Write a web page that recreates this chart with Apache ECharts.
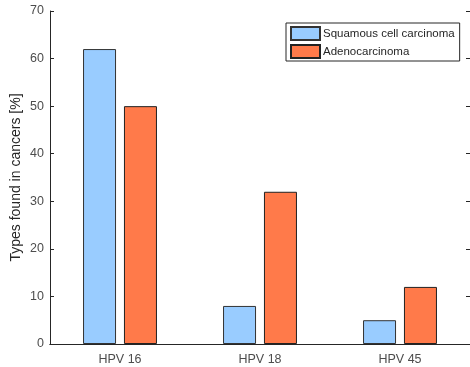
<!DOCTYPE html>
<html>
<head>
<meta charset="utf-8">
<script src="https://cdn.jsdelivr.net/npm/echarts@6/dist/echarts.min.js"></script>
<style>html,body{margin:0;padding:0;background:#fff;}#c{width:470px;height:367px;}</style>
</head>
<body>
<div id="c"></div>
<script>
const categories = ['HPV 16', 'HPV 18', 'HPV 45'];
const squamous = [62, 8, 5];
const adeno = [50, 32, 12];
const seriesNames = ['Squamous cell carcinoma', 'Adenocarcinoma'];

const font = 'Liberation Sans, Arial, Helvetica, sans-serif';
const axisColor = '#262626';
const chart = echarts.init(document.getElementById('c'));
chart.setOption({
  animation: false,
  textStyle: { fontFamily: font },
  grid: { left: 50, top: 11, width: 422, height: 333, containLabel: false },
  legend: {
    orient: 'vertical',
    left: 286, top: 23,
    itemWidth: 29, itemHeight: 13, itemGap: 3,
    padding: [3, 5, 2, 4],
    borderColor: '#262626', borderWidth: 1,
    backgroundColor: '#fff',
    icon: 'rect',
    textStyle: { fontSize: 11.5, color: '#262626', fontFamily: font, padding: [0, 0, 0, -2] },
    data: seriesNames
  },
  xAxis: [{
    type: 'category', data: categories, position: 'bottom',
    axisLine: { lineStyle: { color: axisColor, width: 1 } },
    axisTick: { inside: true, alignWithLabel: true, length: 4, lineStyle: { color: axisColor } },
    axisLabel: { fontSize: 12.5, color: '#4d4d4d', margin: 9, fontFamily: font },
    splitLine: { show: false }
  }, {
    type: 'category', data: categories, position: 'top',
    axisLine: { show: true, lineStyle: { color: axisColor, width: 1 } },
    axisTick: { inside: true, alignWithLabel: true, length: 4, lineStyle: { color: axisColor } },
    axisLabel: { show: false }
  }],
  yAxis: [{
    type: 'value', min: 0, max: 70, interval: 10, position: 'left',
    name: 'Types found in cancers [%]', nameLocation: 'middle', nameGap: 27,
    nameMoveOverlap: false,
    nameTextStyle: { fontSize: 14, color: '#262626', fontFamily: font },
    axisLine: { show: true, lineStyle: { color: axisColor, width: 1 } },
    axisTick: { show: true, inside: true, length: 4, lineStyle: { color: axisColor } },
    axisLabel: { fontSize: 12.5, color: '#4d4d4d', margin: 6, fontFamily: font },
    splitLine: { show: false }
  }, {
    type: 'value', min: 0, max: 70, interval: 10, position: 'right',
    axisLine: { show: true, lineStyle: { color: axisColor, width: 1 } },
    axisTick: { show: true, inside: true, length: 4, lineStyle: { color: axisColor } },
    axisLabel: { show: false },
    splitLine: { show: false }
  }],
  series: [{
    name: seriesNames[0], type: 'bar', data: squamous,
    barWidth: 33, barGap: '24%',
    itemStyle: { color: '#99ccff', borderColor: '#333333', borderWidth: 1 }
  }, {
    name: seriesNames[1], type: 'bar', data: adeno,
    barWidth: 33,
    itemStyle: { color: '#ff7a4a', borderColor: '#222222', borderWidth: 1 }
  }]
});
</script>
</body>
</html>
